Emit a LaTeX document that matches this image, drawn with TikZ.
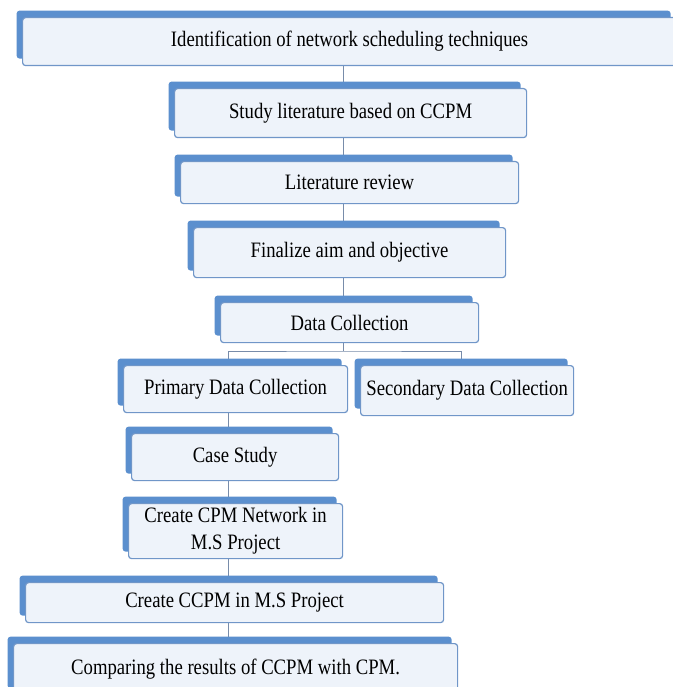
\documentclass[tikz,border=0pt]{standalone}
\usepackage{fontspec}
\setmainfont{Liberation Serif}[FakeStretch=0.85]
\usetikzlibrary{shadows,backgrounds}
\definecolor{tabblue}{RGB}{91,143,206}
\definecolor{edgeblue}{RGB}{112,150,200}
\definecolor{paleblue}{RGB}{238,243,250}
\definecolor{linkgray}{RGB}{120,140,170}

\begin{document}
\begin{tikzpicture}[x=1pt, y=-1pt,
    stage/.style={rectangle, draw=edgeblue, line width=1.2pt, fill=paleblue, rounded corners=3pt, anchor=north west, inner sep=2pt, align=center, font=\fontsize{22}{27}\selectfont, general shadow={fill=tabblue, draw=none, shadow xshift=-6pt, shadow yshift=7pt}},
    link/.style={draw=linkgray, line width=0.9pt},
]
    \useasboundingbox (0,0) rectangle (672,687);
    \node[stage, minimum width=654, minimum height=48] (ident) at (22,17) {Identification of network scheduling techniques};
    \node[stage, minimum width=352, minimum height=49] (study) at (174,88) {Study literature based on CCPM};
    \node[stage, minimum width=338, minimum height=42] (litrev) at (180,161) {Literature review};
    \node[stage, minimum width=312, minimum height=50] (aim) at (193,227) {Finalize aim and objective};
    \node[stage, minimum width=258, minimum height=40] (data) at (220,302) {Data Collection};
    \node[stage, minimum width=224, minimum height=47] (primary) at (123,365) {Primary Data Collection};
    \node[stage, minimum width=213, minimum height=50] (secondary) at (360,365) {Secondary Data Collection};
    \node[stage, minimum width=207, minimum height=47] (case) at (131,433) {Case Study};
    \node[stage, minimum width=214, minimum height=55] (cpmnet) at (128,503) {Create CPM Network in\\M.S Project};
    \node[stage, minimum width=418, minimum height=40] (ccpm) at (25,582) {Create CCPM in M.S Project};
    \node[stage, minimum width=444, minimum height=52] (compare) at (13,643) {Comparing the results of CCPM with CPM.};

    % connectors behind the boxes
    \coordinate (spine) at (343,0);
    \coordinate (subspine) at (228,0);
    \coordinate (rdrop) at (461,0);
    \coordinate (fork) at (343,351);
    \begin{scope}[on background layer]
        \fill[white] (0,0) rectangle (672,687);
        \draw[link] (ident.south -| spine) -- (data.north -| spine);
        \draw[link] (data.south -| fork) -- (fork);
        \draw[link] (primary.north -| subspine) |- (fork) -| (secondary.north -| rdrop);
        \draw[link] (primary.south -| subspine) -- (compare.north -| subspine);
    \end{scope}
\end{tikzpicture}
\end{document}
